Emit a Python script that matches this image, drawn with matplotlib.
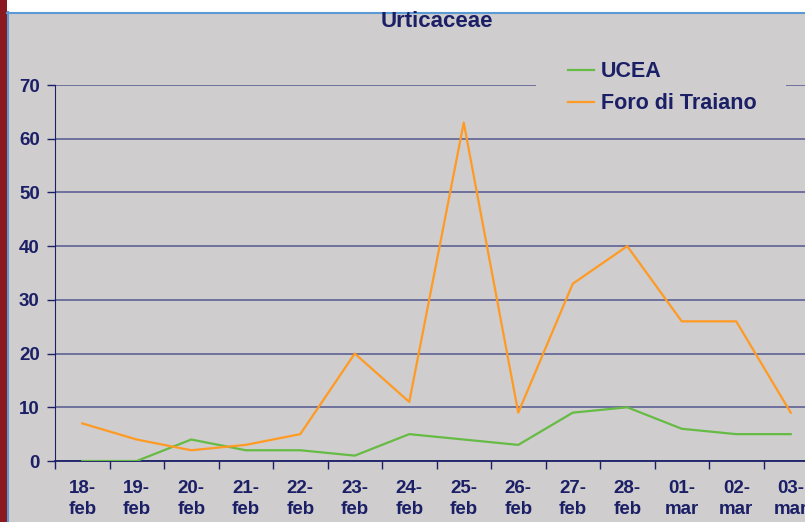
import numpy as np
import matplotlib
matplotlib.use("Agg")
import matplotlib.pyplot as plt
from matplotlib.patches import Rectangle
from matplotlib.lines import Line2D

# dati
giorni = ["18-\nfeb", "19-\nfeb", "20-\nfeb", "21-\nfeb", "22-\nfeb", "23-\nfeb", "24-\nfeb",
          "25-\nfeb", "26-\nfeb", "27-\nfeb", "28-\nfeb", "01-\nmar", "02-\nmar", "03-\nmar"]
ucea = [0, 0, 4, 2, 2, 1, 5, 4, 3, 9, 10, 6, 5, 5]
foro = [7, 4, 2, 3, 5, 20, 11, 63, 9, 33, 40, 26, 26, 9]

navy = "#1b1f66"
grigio = "#cfcdce"

plt.rcParams['font.family'] = ['Liberation Sans', 'DejaVu Sans']

fig = plt.figure(figsize=(8.05, 5.22), dpi=100, facecolor=grigio)
W, H = 805, 522

# cornice (striscia rossa a sinistra, bianco in alto)
fig.patches.append(Rectangle((0, 1 - 12 / H), 1, 12 / H, transform=fig.transFigure,
                             facecolor="white", edgecolor="none", zorder=-5))
fig.patches.append(Rectangle((0, 0), 7 / W, 1, transform=fig.transFigure,
                             facecolor="#8b1a20", edgecolor="none", zorder=-4))
fig.add_artist(Line2D([7.5 / W, 7.5 / W], [0, 1 - 12 / H], transform=fig.transFigure,
                      color="#5b9bd5", lw=1.5, zorder=-3))
fig.add_artist(Line2D([7 / W, 1], [1 - 12.5 / H, 1 - 12.5 / H], transform=fig.transFigure,
                      color="#5b9bd5", lw=1.5, zorder=-3))

# assi: sinistra 55, basso 461, alto(70) 85, largh 14*54.5
x0, y0, y70 = 55, 461, 85
larg = 14 * 54.5
alt = y0 - y70
ax = fig.add_axes([x0 / W, 1 - y0 / H, larg / W, alt / H])
ax.set_facecolor(grigio)

x = np.arange(len(giorni))
ax.plot(x, ucea, color="#66bb44", lw=1.6, label="UCEA", zorder=3)
ax.plot(x, foro, color="#ff9a22", lw=1.6, label="Foro di Traiano", zorder=3)

ax.set_xlim(-0.5, len(giorni) - 0.5)
ax.set_ylim(0, 70)
ax.set_yticks(range(0, 71, 10))
ax.yaxis.grid(True, color="#5d6294", lw=1.2)
ax.set_axisbelow(True)

# la legenda copre la griglia a 70
ax.add_patch(Rectangle(((536 - x0) / larg, 1 - 4 / alt), 250 / larg, 8 / alt,
                       transform=ax.transAxes, facecolor=grigio, edgecolor="none",
                       clip_on=False, zorder=1))

ax.set_xticks(np.arange(-0.5, len(giorni), 1))
ax.set_xticklabels([])
ax.set_xticks(x, minor=True)
ax.set_xticklabels(giorni, minor=True)
ax.tick_params(axis="x", which="major", length=6, color=navy, width=1)
ax.tick_params(axis="x", which="minor", length=0, pad=14, labelsize=13.5, labelcolor=navy)
ax.tick_params(axis="y", length=6, color=navy, width=1, labelsize=13.5, labelcolor=navy, pad=5)
for t in ax.get_xticklabels(minor=True) + ax.get_yticklabels():
    t.set_fontweight("bold")
    t.set_linespacing(1.25)

for s in ["top", "right"]:
    ax.spines[s].set_visible(False)
ax.spines["left"].set_color(navy)
ax.spines["bottom"].set_color(navy)
ax.spines["bottom"].set_linewidth(1.3)

ax.set_title("Urticaceae", fontsize=16, fontweight="bold", color=navy, pad=42)

leg = ax.legend(loc="upper left", bbox_to_anchor=((536 - x0) / larg, (y0 - 29) / alt),
                frameon=False, handlelength=1.2, handletextpad=0.3, labelspacing=0.5,
                borderpad=1.5, borderaxespad=0, prop={"size": 15.5, "weight": "bold"})
for t in leg.get_texts():
    t.set_color(navy)

fig.savefig("out.png", dpi=100, facecolor=grigio)
